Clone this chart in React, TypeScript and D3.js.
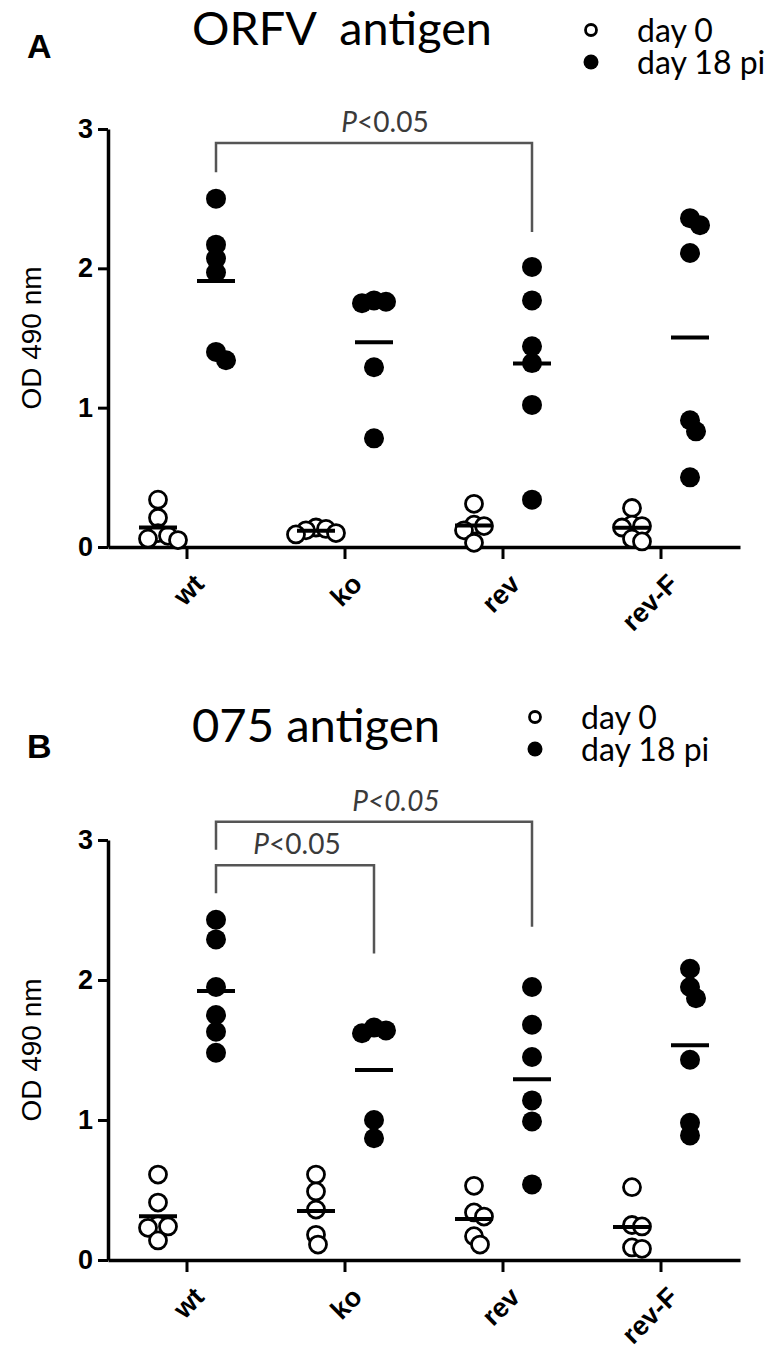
import React, { useEffect, useRef } from "react";
import * as d3 from "d3";

// categories on the x axis
const groups = ["wt", "ko", "rev", "rev-F"];
const yTicks = [0, 1, 2, 3];
const seriesNames = ["day 0", "day 18 pi"];

// panel A - ORFV antigen, OD 490 nm per animal
const orfvDay0 = [
  [0.34, 0.21, 0.1, 0.06, 0.05, 0.08],
  [0.14, 0.13, 0.12, 0.1, 0.09],
  [0.31, 0.16, 0.15, 0.12, 0.03],
  [0.28, 0.16, 0.15, 0.14, 0.06, 0.04],
];
const orfvDay18 = [
  [2.5, 2.17, 2.07, 1.97, 1.4, 1.34],
  [1.77, 1.76, 1.75, 1.29, 0.78],
  [2.01, 1.77, 1.44, 1.32, 1.02, 0.34],
  [2.36, 2.31, 2.11, 0.91, 0.83, 0.5],
];

// panel B - 075 antigen
const ag075Day0 = [
  [0.61, 0.41, 0.25, 0.24, 0.23, 0.14],
  [0.61, 0.49, 0.36, 0.18, 0.11],
  [0.53, 0.34, 0.31, 0.17, 0.11],
  [0.52, 0.25, 0.24, 0.09, 0.08],
];
const ag075Day18 = [
  [2.43, 2.29, 1.95, 1.75, 1.63, 1.48],
  [1.66, 1.64, 1.62, 1.0, 0.87],
  [1.95, 1.68, 1.45, 1.14, 0.99, 0.54],
  [2.08, 1.95, 1.87, 1.43, 0.98, 0.89],
];

// significance brackets (bracket heights in OD units)
const orfvComparisons = [
  { from: 0, to: 2, top: 2.9, leftEnd: 2.69, rightEnd: 2.26, label: "<0.05", allItalic: false },
];
const ag075Comparisons = [
  { from: 0, to: 2, top: 3.13, leftEnd: 2.93, rightEnd: 2.38, label: "<0.05", allItalic: true },
  { from: 0, to: 1, top: 2.82, leftEnd: 2.62, rightEnd: 2.19, label: "<0.05", allItalic: false },
];

const W = 781;
const H = 1364;
const arial = "'Liberation Sans', Arial, sans-serif";
const calib = "Lato, 'Open Sans', sans-serif";

// simple beeswarm so overlapping dots spread sideways a bit
function swarm(vals, cx, y, minDist) {
  const placed = [];
  const order = vals.map((v, i) => i).sort((a, b) => vals[b] - vals[a]);
  for (const i of order) {
    const py = y(vals[i]);
    let px = cx;
    for (let k = 0; k < 60; k++) {
      const off = (k % 2 === 1 ? 1 : -1) * Math.ceil(k / 2) * 2;
      px = cx + off;
      if (placed.every((p) => Math.hypot(p.x - px, p.y - py) >= minDist)) break;
    }
    placed.push({ x: px, y: py, v: vals[i] });
  }
  return placed;
}

function drawPanel(svg, o) {
  const x = d3.scaleBand().domain(groups).range([108, 740]);
  const y = d3.scaleLinear().domain([0, 3]).range([o.bottom, o.top]);
  const cx = (g) => x(g) + x.bandwidth() / 2;
  const off = 29;

  const g = svg.append("g");

  // panel letter + title
  g.append("text")
    .attr("x", 27)
    .attr("y", o.letterY)
    .style("font-family", arial)
    .style("font-weight", "bold")
    .style("font-size", "34px")
    .text(o.letter);
  g.append("text")
    .attr("x", 192)
    .attr("y", o.titleY)
    .attr("textLength", o.titleW)
    .attr("lengthAdjust", "spacingAndGlyphs")
    .style("font-family", calib)
    .style("font-size", "47px")
    .style("white-space", "pre")
    .text(o.title);

  // legend
  const leg = g.append("g").attr("transform", `translate(${o.legendX},${o.legendY})`);
  seriesNames.forEach((name, i) => {
    leg
      .append("circle")
      .attr("cx", 0)
      .attr("cy", i * 32)
      .attr("r", i === 0 ? 5.5 : 7.5)
      .attr("fill", i === 0 ? "#fff" : "#000")
      .attr("stroke", "#000")
      .attr("stroke-width", i === 0 ? 2.8 : 0);
    leg
      .append("text")
      .attr("x", 46)
      .attr("y", i * 32 + 12)
      .style("font-family", calib)
      .style("font-size", "32px")
      .text(name);
  });

  // y axis
  const yAxis = g
    .append("g")
    .attr("transform", "translate(108,0)")
    .call(d3.axisLeft(y).tickValues(yTicks).tickSize(10).tickSizeOuter(0).tickPadding(5).tickFormat(d3.format("d")));
  yAxis.select(".domain").attr("stroke-width", 3.5);
  yAxis.selectAll(".tick line").attr("stroke-width", 3);
  yAxis
    .selectAll(".tick text")
    .style("font-family", arial)
    .style("font-weight", "bold")
    .style("font-size", "27px");

  g.append("text")
    .attr("transform", `translate(41,${(o.top + o.bottom) / 2}) rotate(-90)`)
    .attr("text-anchor", "middle")
    .style("font-family", arial)
    .style("font-size", "28px")
    .text("OD 490 nm");

  // x axis
  const xAxis = g
    .append("g")
    .attr("transform", `translate(0,${o.bottom})`)
    .call(d3.axisBottom(x).tickSize(12).tickSizeOuter(0));
  xAxis.select(".domain").attr("stroke-width", 3.5);
  xAxis.selectAll(".tick line").attr("stroke-width", 3);
  xAxis
    .selectAll(".tick text")
    .attr("text-anchor", "end")
    .attr("y", 0)
    .attr("dy", "0.35em")
    .attr("transform", "translate(12,32) rotate(-45)")
    .style("font-family", arial)
    .style("font-weight", "bold")
    .style("font-size", "27px");

  // brackets
  o.comps.forEach((c, ci) => {
    const x1 = cx(groups[c.from]) + off;
    const x2 = cx(groups[c.to]) + off;
    const path = d3.path();
    path.moveTo(x1, y(c.leftEnd));
    path.lineTo(x1, y(c.top));
    path.lineTo(x2, y(c.top));
    path.lineTo(x2, y(c.rightEnd));
    g.append("path")
      .attr("d", path.toString())
      .attr("fill", "none")
      .attr("stroke", "#555")
      .attr("stroke-width", 2.5);
    const t = g
      .append("text")
      .attr("x", (x1 + x2) / 2 + o.labelDx[ci])
      .attr("y", y(c.top) - 11)
      .attr("text-anchor", "middle")
      .style("font-family", calib)
      .style("font-size", "28px")
      .attr("fill", "#3a3a3a");
    t.append("tspan").style("font-style", "italic").text("P");
    t.append("tspan").style("font-style", c.allItalic ? "italic" : "normal").text(c.label);
  });

  // dots
  groups.forEach((grp, gi) => {
    const open = swarm(o.day0[gi], cx(grp) - off, y, 10);
    const filled = swarm(o.day18[gi], cx(grp) + off, y, 12);
    g.append("g")
      .selectAll("circle")
      .data(open)
      .join("circle")
      .attr("cx", (d) => d.x)
      .attr("cy", (d) => d.y)
      .attr("r", 8.5)
      .attr("fill", "#fff")
      .attr("stroke", "#000")
      .attr("stroke-width", 2.8);
    g.append("g")
      .selectAll("circle")
      .data(filled)
      .join("circle")
      .attr("cx", (d) => d.x)
      .attr("cy", (d) => d.y)
      .attr("r", 10)
      .attr("fill", "#000");

    // mean lines
    [
      [o.day0[gi], cx(grp) - off],
      [o.day18[gi], cx(grp) + off],
    ].forEach(([vals, mx]) => {
      const m = d3.mean(vals);
      g.append("line")
        .attr("x1", mx - 19)
        .attr("x2", mx + 19)
        .attr("y1", y(m))
        .attr("y2", y(m))
        .attr("stroke", "#000")
        .attr("stroke-width", 4);
    });
  });
}

export default function App() {
  const svgRef = useRef(null);

  useEffect(() => {
    const svg = d3.select(svgRef.current);
    svg.selectAll("*").remove();

    drawPanel(svg, {
      top: 129,
      bottom: 547,
      letter: "A",
      letterY: 58,
      title: "ORFV  antigen",
      titleY: 45,
      titleW: 300,
      legendX: 591,
      legendY: 30,
      day0: orfvDay0,
      day18: orfvDay18,
      comps: orfvComparisons,
      labelDx: [11],
    });
    drawPanel(svg, {
      top: 840,
      bottom: 1260,
      letter: "B",
      letterY: 758,
      title: "075 antigen",
      titleY: 742,
      titleW: 248,
      legendX: 535,
      legendY: 717,
      day0: ag075Day0,
      day18: ag075Day18,
      comps: ag075Comparisons,
      labelDx: [22, 2],
    });
  }, []);

  return (
    <svg
      ref={svgRef}
      width={W}
      height={H}
      style={{ position: "absolute", left: 0, top: 0, background: "#fff" }}
    />
  );
}
